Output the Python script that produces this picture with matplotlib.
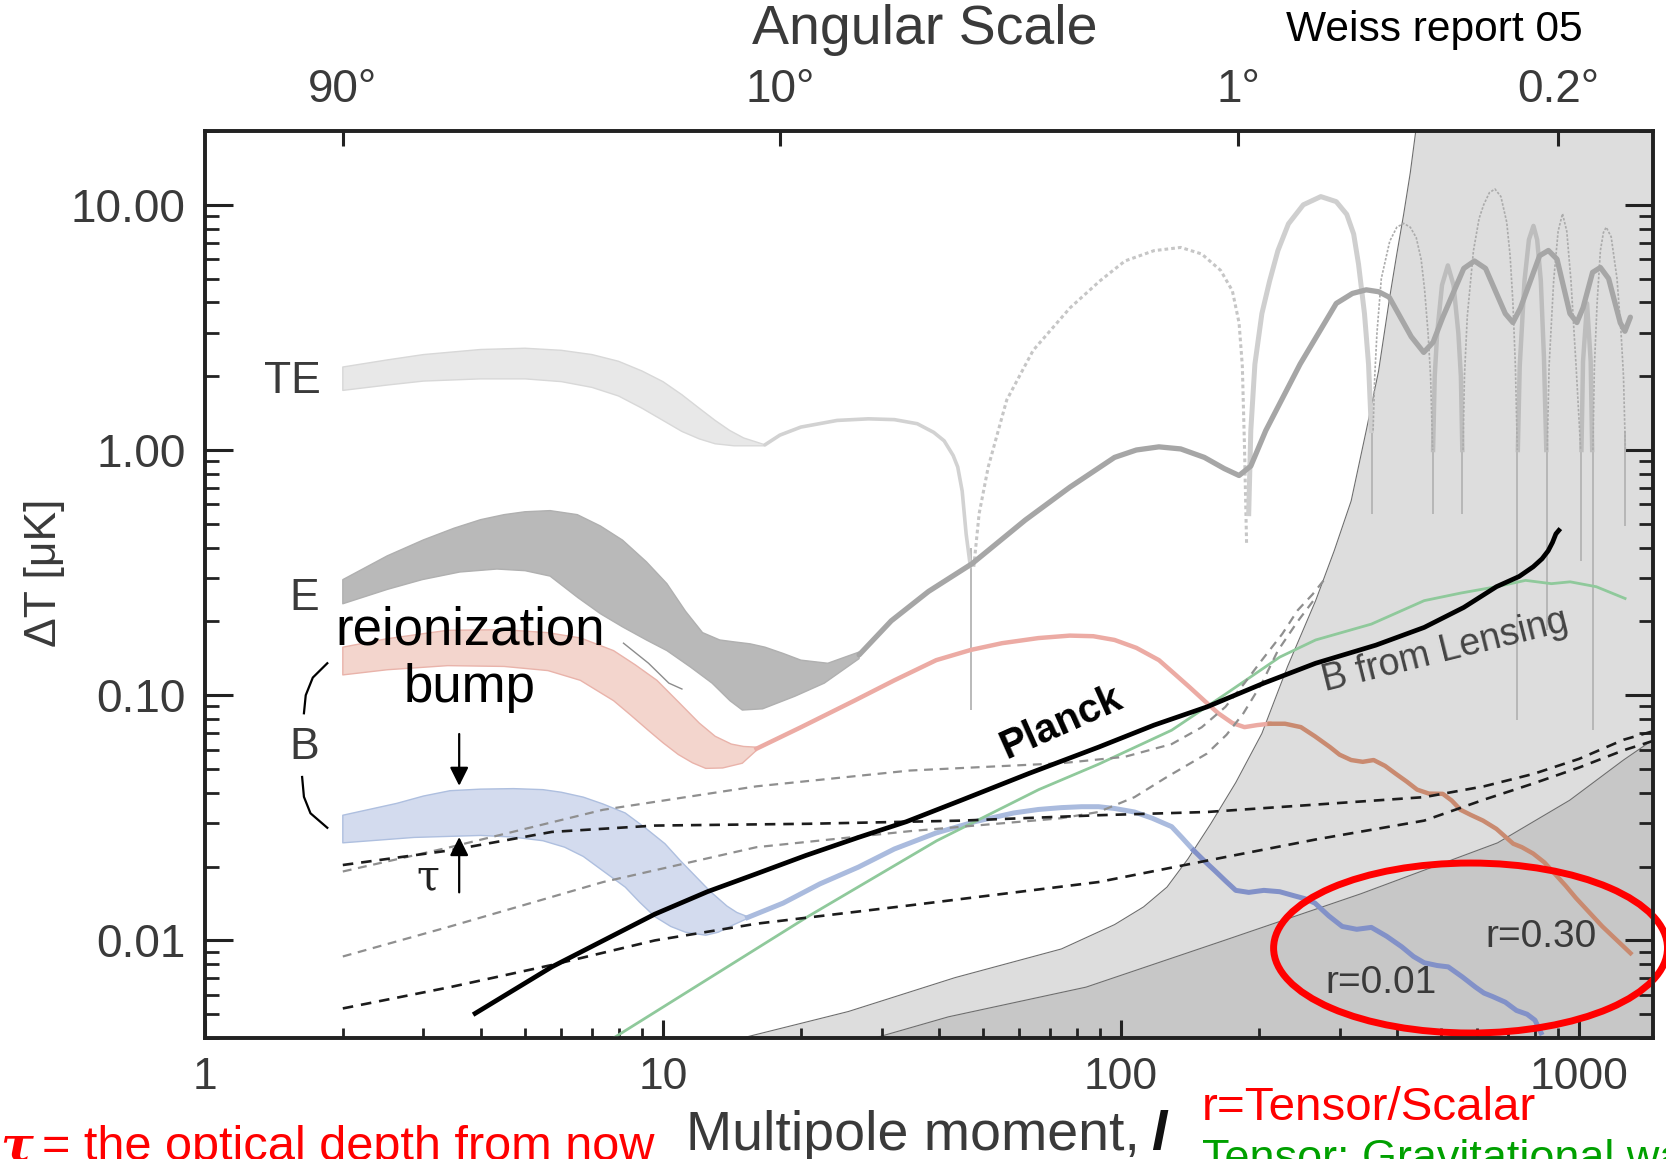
import numpy as np
import matplotlib
matplotlib.use("Agg")
import matplotlib.pyplot as plt
from matplotlib import font_manager
from matplotlib.patches import Ellipse
from matplotlib.ticker import LogLocator, NullFormatter, NullLocator


def font_ok(name):
    try:
        font_manager.findfont(font_manager.FontProperties(family=name), fallback_to_default=False)
        return True
    except Exception:
        return False


SANS = "Liberation Sans" if font_ok("Liberation Sans") else "DejaVu Sans"
HAS_NARROW = font_ok("Liberation Sans Narrow")
NARROW = "Liberation Sans Narrow" if HAS_NARROW else SANS
NS = 1.0 if HAS_NARROW else 0.9   # size factor when narrow font missing
plt.rcParams["font.family"] = [SANS, "DejaVu Sans"]

# ---------------- data (multipole l, amplitude dT in muK) ----------------
x_ticks = [1, 10, 100, 1000]
x_tick_labels = ["1", "10", "100", "1000"]
y_ticks = [0.01, 0.1, 1, 10]
y_tick_labels = ["0.01", "0.10", "1.00", "10.00"]
top_tick_l = [2, 18, 180, 900]
top_tick_labels = ["90°", "10°", "1°", "0.2°"]

# foreground / noise shaded regions (boundary curves)
shade_light_l = [14.9, 25.4, 43.4, 74.1, 96.8, 112, 126, 140, 157, 178, 203, 231, 266, 292, 318, 343,
                 365, 386, 400, 414, 428, 440]
shade_light_T = [0.0040, 0.00513, 0.00705, 0.00923, 0.0116, 0.0137, 0.0165, 0.0215, 0.0299, 0.044,
                 0.0698, 0.131, 0.243, 0.388, 0.620, 1.20, 2.1, 4.2, 6.3, 9.14, 13.5, 20.0]
shade_dark_l = [29.0, 42.0, 83.9, 168, 334, 664, 954, 1250, 1450]
shade_dark_T = [0.0040, 0.00488, 0.00645, 0.0100, 0.0155, 0.025, 0.0373, 0.0544, 0.0658]

# TE band and line
te_band_upper_l = [2, 2.5, 3, 4, 5, 6, 7, 8, 9, 10, 11, 12, 13, 14, 15, 16.7]
te_band_upper_T = [2.18, 2.33, 2.45, 2.57, 2.60, 2.55, 2.45, 2.30, 2.10, 1.90, 1.68, 1.48, 1.32, 1.20,
                   1.12, 1.05]
te_band_lower_l = [2, 2.5, 3, 4, 5, 6, 7, 8, 9, 10, 11, 12, 13, 14.3, 16.7]
te_band_lower_T = [1.75, 1.84, 1.91, 1.95, 1.95, 1.90, 1.80, 1.66, 1.48, 1.32, 1.19, 1.11, 1.06, 1.04, 1.04]
te_line_l = [16.7, 18, 20, 24, 28.1, 32, 35.9, 39, 41.1, 43, 44, 45, 45.9, 46.9]
te_line_T = [1.05, 1.15, 1.24, 1.32, 1.34, 1.33, 1.28, 1.18, 1.09, 0.95, 0.853, 0.68, 0.455, 0.334]
te_neg1_l = [47.7, 49, 51.3, 56.3, 64.3, 77.4, 90, 102, 118, 135, 150, 165, 175, 181, 184, 186, 188]
te_neg1_T = [0.334, 0.55, 0.853, 1.60, 2.55, 3.80, 4.9, 5.9, 6.5, 6.7, 6.3, 5.4, 4.46, 3.3, 2.2, 1.03, 0.41]
te_pos1_l = [190, 192, 196, 203, 211, 220, 232, 250, 273, 295, 311, 322, 330, 340, 347, 352]
te_pos1_T = [0.55, 1.2, 2.24, 3.6, 4.88, 6.5, 8.36, 10.0, 10.8, 10.3, 9.14, 7.6, 5.72, 3.6, 2.24, 1.2]
te_neg2_l = [355, 358, 362, 370, 386, 400, 414, 428, 441, 452, 460, 468, 474, 479]
te_neg2_T = [1.2, 2.0, 3.0, 5.0, 7.1, 8.1, 8.4, 8.1, 7.35, 6.0, 4.5, 3.0, 2.0, 1.0]
te_pos2_l = [480, 484, 490, 502, 517, 532, 545, 552, 556]
te_pos2_T = [1.0, 2.0, 3.0, 4.7, 5.66, 4.7, 3.0, 2.0, 1.0]
te_neg3_l = [558, 562, 570, 588, 605, 619, 637, 655, 675, 695, 707, 717, 726, 733]
te_neg3_T = [1.0, 2.0, 3.5, 6.5, 8.8, 10.0, 11.2, 11.6, 10.8, 8.5, 6.2, 4.0, 2.2, 1.0]
te_pos3_l = [735, 742, 760, 777, 795, 810, 825, 838, 848]
te_pos3_T = [1.0, 2.2, 4.9, 7.2, 8.2, 7.2, 4.9, 2.4, 1.0]
te_neg4_l = [852, 860, 880, 900, 920, 940, 960, 985, 1008]
te_neg4_T = [1.0, 2.2, 4.9, 7.8, 9.2, 7.8, 4.9, 2.2, 1.0]
te_pos4_l = [1012, 1020, 1041, 1060, 1068]
te_pos4_T = [1.0, 2.3, 3.96, 2.3, 1.0]
te_neg5_l = [1072, 1080, 1095, 1113, 1130, 1146, 1175, 1210, 1235, 1250, 1262]
te_neg5_T = [1.0, 2.2, 4.0, 6.5, 7.7, 8.1, 7.4, 5.0, 3.0, 2.0, 1.0]
te_zero_l = [47, 353, 479, 556, 733, 850, 1010, 1070, 1262]
te_zero_low = [0.087, 0.55, 0.55, 0.55, 0.079, 0.184, 0.354, 0.072, 0.49]
te_zero_high = [0.40, 1.5, 1.2, 1.2, 1.2, 1.2, 1.2, 1.2, 1.2]

# E band and line
e_band_upper_l = [2, 2.5, 3, 3.5, 4, 4.5, 5, 5.67, 6.5, 7.3, 8.16, 9.2, 10.2, 11.2, 12.2, 13.3, 14.3, 15.5,
                  16.7, 18.3, 20, 22.9, 26.8]
e_band_upper_T = [0.296, 0.37, 0.43, 0.48, 0.52, 0.545, 0.56, 0.566, 0.545, 0.49, 0.429, 0.35, 0.285, 0.22,
                  0.18, 0.168, 0.165, 0.162, 0.157, 0.148, 0.139, 0.135, 0.150]
e_band_lower_l = [2, 2.5, 2.98, 3.6, 4.34, 5.0, 5.67, 6.52, 7.3, 8.16, 9.2, 10.2, 11.5, 12.8, 14.0, 14.9,
                  16.5, 19.4, 22.5, 26.8]
e_band_lower_T = [0.236, 0.27, 0.296, 0.318, 0.327, 0.322, 0.306, 0.250, 0.215, 0.190, 0.168, 0.152, 0.130,
                  0.112, 0.095, 0.087, 0.088, 0.099, 0.112, 0.141]
e_line_l = [26.8, 31.5, 38, 47.3, 61.8, 77.3, 96.8, 108, 121, 135, 152, 168, 181, 192, 207, 246, 295, 320,
            343, 365, 385, 430, 458, 480, 504, 560, 591, 625, 690, 717, 745, 820, 857, 895, 955, 989,
            1020, 1070, 1113, 1160, 1230, 1259, 1294]
e_line_T = [0.146, 0.201, 0.265, 0.344, 0.518, 0.705, 0.933, 1.0, 1.03, 1.01, 0.933, 0.84, 0.787, 0.86,
            1.20, 2.24, 3.96, 4.35, 4.50, 4.42, 4.20, 2.9, 2.50, 2.75, 3.48, 5.5, 5.90, 5.5, 3.6, 3.31,
            3.8, 6.2, 6.51, 6.0, 3.6, 3.31, 3.8, 5.3, 5.55, 5.0, 3.3, 3.05, 3.48]
e_thin_l = [8.2, 9.3, 10.3, 11.0]
e_thin_T = [0.163, 0.135, 0.112, 0.106]

# B-mode, r = 0.30 (pink band, then line)
b30_band_upper_l = [2, 2.5, 3.39, 4.5, 5.6, 6.62, 7.8, 8.7, 9.7, 10.8, 12.0, 13, 14.1, 15, 16.0]
b30_band_upper_T = [0.157, 0.170, 0.184, 0.185, 0.180, 0.171, 0.152, 0.133, 0.115, 0.094, 0.077, 0.068,
                    0.0632, 0.0618, 0.0614]
b30_band_lower_l = [2, 2.5, 3.39, 4.5, 5.61, 6.6, 7.8, 8.5, 9.28, 10.0, 10.8, 11.6, 12.4, 13.5, 14.9, 16.0]
b30_band_lower_T = [0.121, 0.127, 0.132, 0.131, 0.126, 0.115, 0.095, 0.083, 0.072, 0.064, 0.0573, 0.053,
                    0.0503, 0.0505, 0.0528, 0.0596]
b30_line_l = [16.0, 20, 26.2, 32, 39.5, 47, 55.0, 66, 77.3, 87, 96.8, 108, 121, 131, 141, 152, 163, 175,
              186, 198, 211, 228, 247, 265, 286, 300, 318, 337, 356, 377, 398, 420, 443, 470, 504, 527,
              551, 580, 617, 660, 718, 750, 794, 840, 885, 935, 984, 1124, 1295]
b30_line_T = [0.0605, 0.074, 0.0951, 0.115, 0.139, 0.153, 0.163, 0.171, 0.175, 0.174, 0.168, 0.156, 0.139,
              0.122, 0.108, 0.095, 0.0844, 0.077, 0.0741, 0.0755, 0.0765, 0.0765, 0.0741, 0.068, 0.0614,
              0.0572, 0.0544, 0.0535, 0.0544, 0.0515, 0.0478, 0.0445, 0.0412, 0.0397, 0.0396, 0.0372,
              0.0341, 0.0325, 0.0308, 0.0285, 0.0248, 0.0240, 0.0226, 0.0208, 0.0187, 0.0167, 0.0149,
              0.0114, 0.00887]

# B-mode, r = 0.01 (blue band, then line)
b01_band_upper_l = [2.0, 2.62, 3.0, 3.43, 4.0, 4.72, 5.47, 6.0, 6.70, 7.4, 8.27, 9.1, 10.1, 10.9, 11.8,
                    12.7, 13.8, 14.5, 15.3]
b01_band_upper_T = [0.0324, 0.0362, 0.0388, 0.0408, 0.0414, 0.0416, 0.0412, 0.0402, 0.0384, 0.0360,
                    0.0331, 0.0290, 0.0248, 0.0212, 0.0182, 0.0158, 0.0138, 0.0130, 0.0125]
b01_band_lower_l = [2.0, 2.86, 4.0, 4.7, 5.47, 6.1, 6.70, 7.4, 8.27, 8.9, 9.6, 10.4, 11.2, 12.4, 13.2,
                    14.0, 15.3]
b01_band_lower_T = [0.0250, 0.0263, 0.0268, 0.0264, 0.0255, 0.0240, 0.0220, 0.0192, 0.0165, 0.0143,
                    0.0125, 0.0114, 0.0108, 0.0105, 0.0108, 0.0114, 0.0123]
b01_line_l = [15.3, 18.3, 22, 26.7, 32, 39.4, 48, 58.3, 66, 74.1, 82, 89.3, 97, 107, 117, 129, 136, 144,
              152, 160, 169, 178, 190, 205, 222, 239, 252, 265, 284, 304, 327, 352, 380, 410, 435, 459,
              490, 518, 556, 594, 620, 648, 690, 730, 770, 801, 826]
b01_line_T = [0.0124, 0.0142, 0.0170, 0.0199, 0.0236, 0.0274, 0.0305, 0.0331, 0.0342, 0.0348, 0.0351,
              0.0351, 0.0345, 0.0334, 0.0315, 0.0291, 0.0262, 0.0233, 0.0211, 0.0193, 0.0175, 0.0160,
              0.0157, 0.0160, 0.0158, 0.0152, 0.0148, 0.0142, 0.0126, 0.0114, 0.0111, 0.0113, 0.0104,
              0.00942, 0.0086, 0.00811, 0.0079, 0.0078, 0.0071, 0.00645, 0.0061, 0.0059, 0.0056,
              0.00518, 0.0050, 0.00473, 0.0042]

# B from lensing
lens_l = [7.8, 20.7, 39.6, 66.1, 89.3, 129, 169, 222, 266, 352, 459, 552, 660, 764, 870, 956, 1090, 1260]
lens_T = [0.0040, 0.0125, 0.0255, 0.0412, 0.0523, 0.0720, 0.101, 0.143, 0.168, 0.195, 0.243, 0.261,
          0.277, 0.294, 0.285, 0.290, 0.277, 0.248]

# Planck sensitivity
planck_l = [3.85, 5.72, 9.6, 12.5, 16.0, 20.5, 26.7, 34, 44.8, 63, 89.3, 118, 154, 205, 266, 360, 459,
            560, 660, 740, 794, 830, 856, 875, 890, 910]
planck_T = [0.00498, 0.0078, 0.0128, 0.0158, 0.0187, 0.0222, 0.0263, 0.0305, 0.0373, 0.048, 0.0614,
            0.0755, 0.0896, 0.112, 0.135, 0.160, 0.189, 0.228, 0.277, 0.305, 0.334, 0.36, 0.388, 0.42,
            0.455, 0.478]

# experiment sensitivity curves (dashed)
exp_a_l = [2.0, 3.43, 5.72, 9.6, 20.8, 44.8, 89.3, 154, 266, 459, 620, 796, 1000, 1250, 1450]
exp_a_T = [0.0203, 0.0233, 0.0277, 0.0294, 0.0299, 0.0308, 0.0324, 0.0334, 0.0358, 0.0384, 0.0425,
           0.0478, 0.055, 0.0658, 0.0713]
exp_b_l = [2.0, 3.43, 5.72, 9.6, 16.0, 34.6, 89.3, 153, 266, 459, 620, 796, 1000, 1250, 1450]
exp_b_T = [0.00528, 0.00645, 0.00794, 0.0100, 0.0117, 0.0139, 0.0173, 0.0211, 0.0258, 0.0308, 0.0375,
           0.0437, 0.0507, 0.0596, 0.0651]
exp_c_l = [2.0, 3.43, 7.40, 16.0, 34.6, 74.1, 102, 129, 150, 169, 186, 203, 225, 243, 262, 277]
exp_c_T = [0.0191, 0.0240, 0.0341, 0.0425, 0.0493, 0.0528, 0.0561, 0.0632, 0.074, 0.0896, 0.112, 0.139,
           0.178, 0.222, 0.258, 0.294]
exp_d_l = [2.0, 3.43, 7.40, 16.0, 34.6, 74.1, 89.3, 107, 125, 154, 170, 185, 203, 220, 243, 266]
exp_d_T = [0.0086, 0.0114, 0.0173, 0.0240, 0.0279, 0.0315, 0.0334, 0.0384, 0.046, 0.0578, 0.069, 0.0844,
           0.112, 0.152, 0.2, 0.250]

# "B" brace and arrows
brace_up_l = [1.85, 1.72, 1.66, 1.645]
brace_up_T = [0.135, 0.118, 0.100, 0.0844]
brace_dn_l = [1.63, 1.645, 1.70, 1.85]
brace_dn_T = [0.0464, 0.0385, 0.0330, 0.0288]
arrow_l = 3.59
arrow_down_T = (0.0713, 0.0416)
arrow_up_T = (0.0153, 0.0271)

# ---------------- figure ----------------
fig = plt.figure(figsize=(16.66, 11.59), dpi=100)
ax = fig.add_axes([0.1230, 0.1044, 0.8692, 0.7826])
ax.set_xscale("log")
ax.set_yscale("log")
XMIN, XMAX, YMIN, YMAX = 1, 1450, 0.004, 20
ax.set_xlim(XMIN, XMAX)
ax.set_ylim(YMIN, YMAX)

# shaded regions
ax.fill_between(shade_light_l + [XMAX], YMIN, shade_light_T + [YMAX], color="#dddddd", lw=0, zorder=0.5)
ax.plot(shade_light_l, shade_light_T, color="#6e6e6e", lw=0.8, zorder=0.6)
ax.fill_between(shade_dark_l, YMIN, shade_dark_T, color="#c7c7c7", lw=0, zorder=0.7)
ax.plot(shade_dark_l, shade_dark_T, color="#6e6e6e", lw=0.8, zorder=0.8)


def band(ul, uT, ll, lT, fc, ec):
    ax.fill(list(ul) + list(ll)[::-1], list(uT) + list(lT)[::-1], facecolor=fc, edgecolor=ec, lw=1.0,
            zorder=2, joinstyle="round")


# TE
band(te_band_upper_l, te_band_upper_T, te_band_lower_l, te_band_lower_T, "#e8e8e8", "#d8d8d8")
ax.plot(te_line_l, te_line_T, color="#d2d2d2", lw=2.6, zorder=2.5, solid_capstyle="round",
        solid_joinstyle="round")
ax.plot(te_neg1_l, te_neg1_T, color="#c6c6c6", lw=2.2, ls=(0, (1.2, 1.0)), zorder=2.5)
ax.plot(te_pos1_l, te_pos1_T, color="#cfcfcf", lw=3.6, zorder=2.5, solid_joinstyle="round")
for pl, pT in [(te_pos2_l, te_pos2_T), (te_pos3_l, te_pos3_T), (te_pos4_l, te_pos4_T)]:
    ax.plot(pl, pT, color="#bdbdbd", lw=3.2, zorder=2.5, solid_joinstyle="round")
for nl, nT in [(te_neg2_l, te_neg2_T), (te_neg3_l, te_neg3_T), (te_neg4_l, te_neg4_T), (te_neg5_l, te_neg5_T)]:
    ax.plot(nl, nT, color="#ababab", lw=1.2, ls=(0, (1.5, 1.0)), zorder=2.5)
ax.vlines(te_zero_l, te_zero_low, te_zero_high, color="#b4b4b4", lw=1.3, zorder=2.4)

# E
band(e_band_upper_l, e_band_upper_T, e_band_lower_l, e_band_lower_T, "#b9b9b9", "#b0b0b0")
ax.plot(e_line_l, e_line_T, color="#a6a6a6", lw=3.8, zorder=2.6, solid_capstyle="round",
        solid_joinstyle="round")
ax.plot(e_thin_l, e_thin_T, color="#8c8c8c", lw=1.0, zorder=2.7)

# B r=0.30
band(b30_band_upper_l, b30_band_upper_T, b30_band_lower_l, b30_band_lower_T, "#f3d5cd", "#e9b3aa")
split30 = b30_line_l.index(211) + 1
ax.plot(b30_line_l[:split30], b30_line_T[:split30], color="#ecaba4", lw=3.2, zorder=2.8,
        solid_joinstyle="round")
ax.plot(b30_line_l[split30 - 1:], b30_line_T[split30 - 1:], color="#c98a70", lw=3.2, zorder=2.8,
        solid_joinstyle="round")

# B r=0.01
band(b01_band_upper_l, b01_band_upper_T, b01_band_lower_l, b01_band_lower_T, "#d3dbee", "#aebfdf")
split01 = b01_line_l.index(144) + 1
ax.plot(b01_line_l[:split01], b01_line_T[:split01], color="#aabbde", lw=3.6, zorder=2.8,
        solid_joinstyle="round")
ax.plot(b01_line_l[split01 - 1:], b01_line_T[split01 - 1:], color="#8291c8", lw=3.6, zorder=2.8,
        solid_joinstyle="round")

# lensing B
ax.plot(lens_l, lens_T, color="#8fc99b", lw=2.0, zorder=3)

# dashed sensitivity curves
ax.plot(exp_c_l, exp_c_T, color="#8f8f8f", lw=1.6, ls=(0, (4, 3)), zorder=3.5)
ax.plot(exp_d_l, exp_d_T, color="#8f8f8f", lw=1.6, ls=(0, (4, 3)), zorder=3.5)
ax.plot(exp_a_l, exp_a_T, color="#1c1c1c", lw=1.9, ls=(0, (4, 3)), zorder=3.6)
ax.plot(exp_b_l, exp_b_T, color="#1c1c1c", lw=1.9, ls=(0, (4, 3)), zorder=3.6)

# Planck
ax.plot(planck_l, planck_T, color="black", lw=3.4, zorder=6, solid_capstyle="butt",
        solid_joinstyle="round")

# brace and arrows
ax.plot(brace_up_l, brace_up_T, color="black", lw=1.6, zorder=6)
ax.plot(brace_dn_l, brace_dn_T, color="black", lw=1.6, zorder=6)
ax.annotate("", xy=(arrow_l, arrow_down_T[1]), xytext=(arrow_l, arrow_down_T[0]),
            arrowprops=dict(arrowstyle="-|>", color="black", lw=1.6, mutation_scale=28), zorder=7)
ax.annotate("", xy=(arrow_l, arrow_up_T[1]), xytext=(arrow_l, arrow_up_T[0]),
            arrowprops=dict(arrowstyle="-|>", color="black", lw=1.6, mutation_scale=28), zorder=7)

# in-plot labels
gray_txt = "#3a3a3a"
ax.text(1.55, 1.91, "TE", fontsize=32, color=gray_txt, ha="center", va="center", zorder=7)
ax.text(1.65, 0.248, "E", fontsize=32, color=gray_txt, ha="center", va="center", zorder=7)
ax.text(1.65, 0.0614, "B", fontsize=32, color=gray_txt, ha="center", va="center", zorder=7)
ax.text(3.79, 0.140, "reionization\nbump", fontsize=38, color="black", ha="center", va="center",
        linespacing=1.2, zorder=7)
ax.text(3.06, 0.0182, "τ", fontsize=30, color="#222222", ha="center", va="center",
        family="DejaVu Serif", zorder=7)
ax.text(74.1, 0.077, "Planck", fontsize=29, fontweight="bold", color="black", rotation=24,
        ha="center", va="center", zorder=7)
ax.text(509, 0.152, "B from Lensing", fontsize=27, color="#444444", rotation=14,
        ha="center", va="center", zorder=7)
ax.text(825, 0.0103, "r=0.30", fontsize=28, color=gray_txt, ha="center", va="center", zorder=7)
ax.text(369, 0.00671, "r=0.01", fontsize=28, color=gray_txt, ha="center", va="center", zorder=7)

ax.add_patch(Ellipse((0.874, 0.0992), 0.272, 0.1874, transform=ax.transAxes, fill=False,
                     edgecolor="#ff0000", lw=5, clip_on=False, zorder=10))

# axes styling
ax.set_xticks(x_ticks)
ax.set_xticklabels(x_tick_labels)
ax.set_yticks(y_ticks)
ax.set_yticklabels(y_tick_labels)
ax.xaxis.set_minor_locator(LogLocator(base=10, subs=np.arange(2, 10), numticks=20))
ax.yaxis.set_minor_locator(LogLocator(base=10, subs=np.arange(2, 10), numticks=20))
ax.xaxis.set_minor_formatter(NullFormatter())
ax.yaxis.set_minor_formatter(NullFormatter())
ax.tick_params(axis="y", which="major", direction="in", length=20, width=2.2, left=True, right=True,
               labelsize=33, pad=14, labelcolor=gray_txt, color="#222222")
ax.tick_params(axis="y", which="minor", direction="in", length=10, width=2.0, left=True, right=True,
               color="#222222")
ax.tick_params(axis="x", which="major", direction="in", length=13, width=2.2, bottom=True, top=False,
               labelsize=32, pad=14, labelcolor=gray_txt, color="#222222")
ax.tick_params(axis="x", which="minor", direction="in", length=7, width=2.0, bottom=True, top=False,
               color="#222222")
for s in ax.spines.values():
    s.set_linewidth(2.6)
    s.set_color("#222222")

ax2 = ax.twiny()
ax2.set_xscale("log")
ax2.set_xlim(XMIN, XMAX)
ax2.set_xticks(top_tick_l)
ax2.set_xticklabels(top_tick_labels)
ax2.xaxis.set_minor_locator(NullLocator())
ax2.tick_params(axis="x", which="major", direction="in", length=11, width=2.2, labelsize=33, pad=14,
                labelcolor=gray_txt, color="#222222")
for s in ax2.spines.values():
    s.set_linewidth(2.6)
    s.set_color("#222222")

# figure texts
fig.text(0.555, 0.974, "Angular Scale", fontsize=40, color=gray_txt, ha="center", va="center")
fig.text(0.861, 0.974, "Weiss report 05", fontsize=34 * NS, family=[NARROW, "DejaVu Sans"],
         color="black", ha="center", va="center")
fig.text(0.027, 0.5056, "ΔT [μK]", fontsize=32, color=gray_txt, rotation=90, ha="center", va="center")
fig.text(0.684, 0.0075, "Multipole moment,", fontsize=40, color=gray_txt, ha="right", va="baseline")
fig.text(0.691, 0.0075, "l", fontsize=40, color="#111111", fontweight="bold", style="italic",
         ha="left", va="baseline")
fig.text(0.0, -0.001, "τ", fontsize=39 * NS, color="#ff0000", family="DejaVu Serif", fontweight="bold",
         style="italic", ha="left", va="baseline")
fig.text(0.0255, -0.001, "= the optical depth from now", fontsize=39 * NS, family=[NARROW, "DejaVu Sans"],
         color="#ff0000", ha="left", va="baseline")
fig.text(0.7215, 0.0337, "r=Tensor/Scalar", fontsize=38 * NS, family=[NARROW, "DejaVu Sans"],
         color="#ff0000", ha="left", va="baseline")
fig.text(0.7215, -0.010, "Tensor: Gravitational wave", fontsize=36 * NS, family=[NARROW, "DejaVu Sans"],
         color="#00a000", ha="left", va="baseline")

fig.savefig("out.png", dpi=100)
